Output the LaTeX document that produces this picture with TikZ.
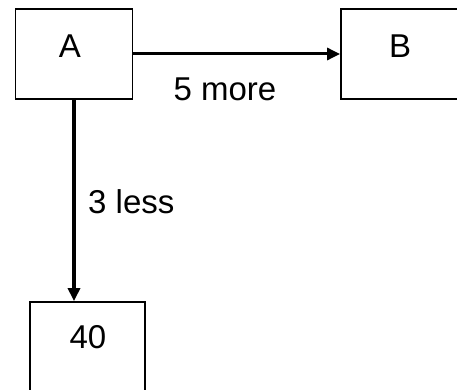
\documentclass[tikz,border=0pt]{standalone}
\usepackage{fontspec}
\setmainfont{Liberation Sans}
\usetikzlibrary{arrows.meta}
\begin{document}
\begin{tikzpicture}[x=1pt,y=1pt,
  boxnode/.style={draw=black,line width=1.8pt,minimum width=117pt,minimum height=90pt,inner sep=0pt,font=\fontsize{33}{36}\selectfont},
  lbl/.style={font=\fontsize{33}{36}\selectfont,inner sep=0pt},
  conn/.style={-{Triangle[length=13pt,width=12pt]}}]
\useasboundingbox (0,0) rectangle (457,389);
\clip (0,0) rectangle (457,389);
\fill[white] (0,0) rectangle (457,389);
\node[boxnode] (A) at (74,335) {};
\node[lbl] (At) at (70,343) {A};
\node[boxnode,minimum width=118pt] (B) at (400,335) {};
\node[lbl] (Bt) at (400,343) {B};
\node[boxnode,minimum width=115pt] (C) at (87.5,42) {};
\node[lbl] (Ct) at (88,52) {40};
\draw[conn,line width=3pt] (A.east) -- (B.west);
\draw[conn,line width=4.5pt] (A.south) -- (A.south |- C.north);
\node[lbl] (m) at (225,300) {5 more};
\node[lbl,anchor=west] (l) at (88,187) {3 less};
\end{tikzpicture}
\end{document}
